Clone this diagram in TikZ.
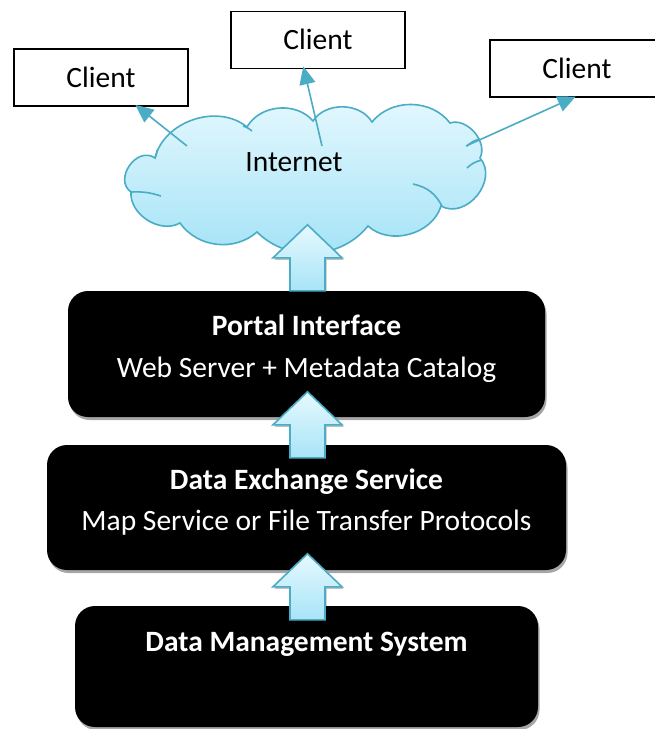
\documentclass[tikz,border=0pt]{standalone}
\usepackage{fontspec}
\setmainfont{Carlito}
\usetikzlibrary{arrows.meta,shadows,calc}
\definecolor{cyanline}{HTML}{4BACC6}
\definecolor{cloudtop}{HTML}{E4F8FE}
\definecolor{cloudbot}{HTML}{A2E2F6}
\definecolor{arrtop}{HTML}{E6F9FE}
\definecolor{arrbot}{HTML}{A8E4F7}
\tikzset{
  clientbox/.style={draw=black, line width=1.5pt, fill=white, minimum width=174pt, minimum height=57pt, inner sep=0pt},
  layerbox/.style={fill=black, rounded corners=20pt, inner sep=0pt,
     drop shadow={shadow xshift=1.5pt, shadow yshift=-3pt, opacity=0.35, fill=black}},
  txt/.style={font=\fontsize{29.5}{35}\selectfont, anchor=base, inner sep=0pt},
  wtxt/.style={txt, text=white},
  btxt/.style={wtxt, font=\fontsize{29.5}{35}\selectfont\bfseries},
  clink/.style={draw=cyanline, line width=1.6pt, -{Triangle[length=18pt,width=16pt]}, shorten >=-3pt},
  bigarrow/.pic={
    \path[draw=cyanline, line width=1.6pt, top color=arrtop, bottom color=arrbot, line join=miter,
          drop shadow={shadow xshift=1.5pt, shadow yshift=-2pt, opacity=0.25, fill=black}]
      (-17.5,0) -- (-17.5,-33) -- (-34.5,-33) -- (0,-66) -- (34.5,-33) -- (17.5,-33) -- (17.5,0) -- cycle;
  },
}
\begin{document}
\begin{tikzpicture}[x=1pt,y=-1pt]
\useasboundingbox (0,0) rectangle (654,729);
\fill[white] (0,0) rectangle (654,729);

% client boxes
\node[clientbox] (client1) at (101,77.5) {};
\node[clientbox] (client2) at (318,40) {};
\node[clientbox] (client3) at (577,68.5) {};
\node[txt] (t1) at (101,87) {Client};
\node[txt] (t2) at (318,49) {Client};
\node[txt] (t3) at (577,78) {Client};

% cloud
\path[draw=cyanline, line width=1.6pt, top color=cloudtop, bottom color=cloudbot]
  (155,158) to[bend left=58] (247,127)
  to[bend left=55] (313,121)
  to[bend left=58] (372,122)
  to[bend left=52] (450,123)
  to[bend left=68] (480,158)
  to[bend left=80, looseness=1.2] (441,206)
  to[bend left=58] (368,226)
  to[bend left=48] (257,232)
  to[bend left=48] (180,223)
  to[bend left=62] (131,192)
  to[bend left=90, looseness=1.35] (155,158) -- cycle;
\draw[cyanline, line width=1.6pt]
  (413,184) to[bend left=25] (442,206)
  (467,146) to[bend left=15] (480,139)
  (467,168) to[bend left=15] (482,160)
  (161,196) to[bend right=10] (131,192)
  (243,126) to[bend left=10] (252,131)
  (155,158) to[bend right=10] (157,150);
\node[txt] (net) at (294,171) {Internet};

% cloud to client connectors
\coordinate (s1) at (187,146);
\coordinate (s2) at (322,146);
\coordinate (s3) at (466,146);
\coordinate (e2) at ($(client2.south)+(-14,0)$);
\coordinate (e3) at ($(client3.south)+(-4,0)$);
\draw[clink] (s1) -- (client1);
\draw[clink] (s2) -- (e2);
\draw[clink] (s3) -- (e3);

% layer boxes
\node[layerbox, minimum width=477pt, minimum height=126pt] (portal) at (306.5,354) {};
\node[layerbox, minimum width=519pt, minimum height=125pt] (des) at (306.5,507.5) {};
\node[layerbox, minimum width=463pt, minimum height=121pt] (dms) at (306.5,666.5) {};

\node[btxt] (portalT) at (306.5,335) {Portal Interface};
\node[wtxt] (portalS) at (306.5,377) {Web Server + Metadata Catalog};
\node[btxt] (desT) at (306.5,489) {Data Exchange Service};
\node[wtxt] (desS) at (306.5,530) {Map Service or File Transfer Protocols};
\node[btxt] (dmsT) at (306.5,651) {Data Management System};

% big up arrows
\pic at ($(portal.north)+(1,0)$) {bigarrow};
\pic at ($(des.north)+(1,13)$) {bigarrow};
\pic at ($(dms.north)+(1,14)$) {bigarrow};
\end{tikzpicture}
\end{document}
